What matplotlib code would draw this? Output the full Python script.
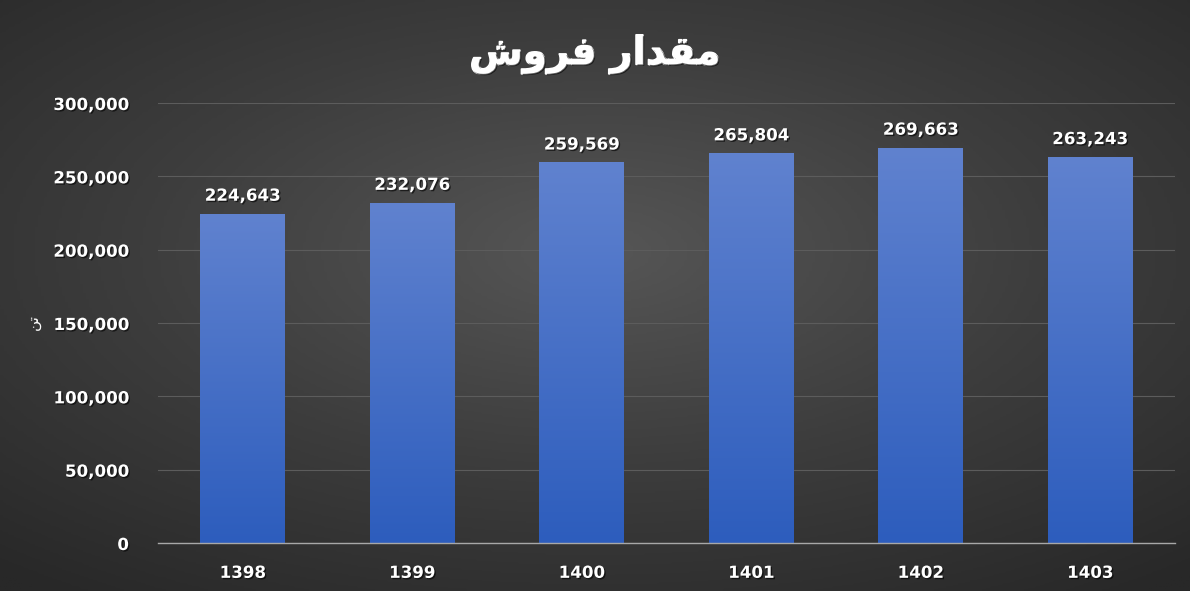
import matplotlib.pyplot as plt
import matplotlib.patheffects as pe
import numpy as np
from matplotlib.colors import LinearSegmentedColormap

years = ["1398", "1399", "1400", "1401", "1402", "1403"]
sales = [224643, 232076, 259569, 265804, 269663, 263243]
y_ticks = [0, 50000, 100000, 150000, 200000, 250000, 300000]

# title "مقدار فروش" in shaped presentation forms, visual order (matplotlib has no bidi)
title = "\ufeb5\ufeed\ufeae\ufed3 \ufead\ufe8d\ufeaa\ufed8\ufee3"
unit = "\ufee6\ufe97"  # "تن"

shadow = [pe.withSimplePatchShadow(offset=(1, -1), shadow_rgbFace="black", alpha=0.6)]

fig = plt.figure(figsize=(11.9, 5.91), dpi=100)

# dark radial background, lighter toward the upper middle
bg = fig.add_axes([0, 0, 1, 1], zorder=-10)
gx, gy = np.meshgrid(np.linspace(-1, 1, 400), np.linspace(-1, 1, 200))
r = np.sqrt((gx * 0.85) ** 2 + ((gy - 0.15) * 0.9) ** 2)
bg_cmap = LinearSegmentedColormap.from_list("bg", ["#565656", "#3d3d3d", "#282828"])
bg.imshow(r, cmap=bg_cmap, aspect="auto", extent=[0, 1, 0, 1], vmin=0, vmax=1.3,
          origin="lower")
bg.axis("off")

ax = fig.add_axes([0.1328, 0.0812, 0.8546, 0.7445])
ax.patch.set_alpha(0)

x = np.arange(len(years))
bars = ax.bar(x, sales, width=0.5, color="none", zorder=3)

bar_cmap = LinearSegmentedColormap.from_list("bar", ["#2d5dbd", "#6082cf"])
grad = np.linspace(0, 1, 256).reshape(-1, 1)
for b in bars:
    bx, bw, bh = b.get_x(), b.get_width(), b.get_height()
    im = ax.imshow(grad, cmap=bar_cmap, aspect="auto", origin="lower",
                   extent=[bx, bx + bw, 0, bh], zorder=3)
    im.set_clip_path(b)
    ax.text(bx + bw / 2, bh + 6000, f"{bh:,.0f}", ha="center", va="bottom",
            color="white", fontsize=12, fontweight="bold", zorder=4,
            path_effects=shadow)

ax.set_xlim(-0.5, len(years) - 0.5)
ax.set_ylim(0, 300000)
ax.set_yticks(y_ticks)
ax.set_yticklabels([f"{v:,}" for v in y_ticks])
ax.set_xticks(x)
ax.set_xticklabels(years)
ax.tick_params(axis="both", length=0, colors="white", labelsize=12)
ax.tick_params(axis="x", pad=15)
ax.tick_params(axis="y", pad=21)
for lab in ax.get_xticklabels() + ax.get_yticklabels():
    lab.set_fontweight("bold")
    lab.set_path_effects(shadow)

ax.grid(axis="y", color="#5c5c5c", linewidth=0.8, zorder=0)
for s in ["top", "right", "left"]:
    ax.spines[s].set_visible(False)
ax.spines["bottom"].set_color("#a8a8a8")
ax.spines["bottom"].set_linewidth(1)
ax.spines["bottom"].set_zorder(5)

fig.text(0.5, 0.908, title, ha="center", va="center", color="white",
         fontsize=28, fontweight="bold", family="DejaVu Sans",
         path_effects=[pe.Stroke(linewidth=1.2, foreground="white"),
                       pe.withSimplePatchShadow(offset=(1, -1), shadow_rgbFace="black",
                                                alpha=0.6)])
fig.text(0.028, 0.455, unit, ha="center", va="center", color="white",
         fontsize=11, rotation=90, family="DejaVu Sans")

fig.savefig("out.png", dpi=100)
